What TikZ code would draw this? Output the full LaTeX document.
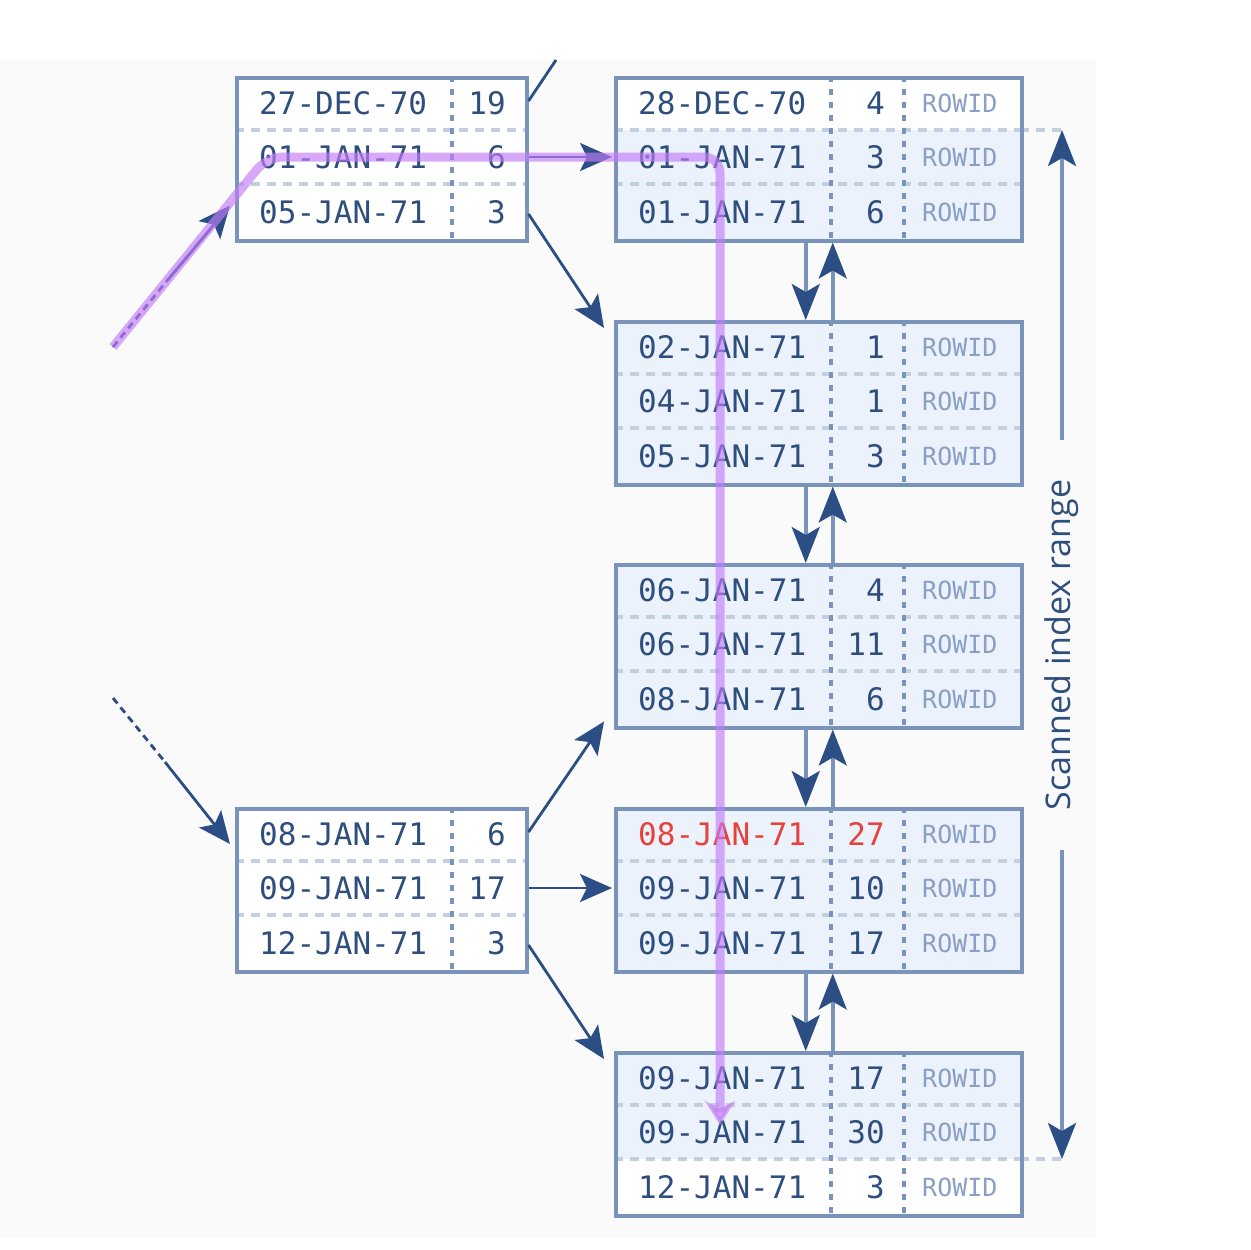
\documentclass[tikz,border=0pt]{standalone}
\usepackage{fontspec}
\usetikzlibrary{arrows.meta}
\newfontfamily\dmono{DejaVu Sans Mono}
\newfontfamily\lblfont{Open Sans}
\definecolor{panelc}{HTML}{FAFAFA}
\definecolor{framec}{HTML}{7A93BA}
\definecolor{sepc}{HTML}{C3CEDF}
\definecolor{txtc}{HTML}{2E4E7E}
\definecolor{ridc}{HTML}{8A9FC5}
\definecolor{arrc}{HTML}{2B4F85}
\definecolor{rowfill}{HTML}{EBF2FB}
\definecolor{purp}{HTML}{C47CF8}
\definecolor{hlred}{HTML}{E8403A}
\tikzset{
 frame/.style={draw=framec, line width=3.5pt, inner sep=0pt, anchor=north west, minimum height=163pt},
 rowsep/.style={draw=sepc, line width=3.5pt, dash pattern=on 9pt off 7pt},
 coldiv/.style={draw=framec, line width=4pt, dash pattern=on 6pt off 7pt},
 datetxt/.style={font=\dmono\fontsize{31}{31}\selectfont, text=txtc, inner sep=0pt, anchor=west},
 numtxt/.style={datetxt, anchor=east},
 ridtxt/.style={font=\dmono\fontsize{25}{25}\selectfont, text=ridc, inner sep=0pt, anchor=west},
 arr/.style={draw=arrc, line width=2.8pt, -{Stealth[length=32pt,width=28pt,inset=7pt]}},
 chainarr/.style={draw=framec, line width=3.5pt, -{Stealth[length=36pt,width=28pt,inset=8pt,color=arrc]}},
 link/.style={draw=arrc, line width=2.8pt},
 pathhl/.style={draw=purp, line width=9pt, opacity=0.65, rounded corners=16pt, -{Stealth[length=24pt,width=30pt]}},
}
% right-hand leaf box
\newcommand\RBox[8]{%
 \draw[rowsep] (614,#2+54) -- (1020,#2+54);
 \draw[rowsep] (614,#2+108) -- (1020,#2+108);
 \draw[coldiv] (831,#2) -- (831,#2+163);
 \draw[coldiv] (904,#2) -- (904,#2+163);
 \node[frame, minimum width=406pt] (#1) at (614,#2) {};
 \node[datetxt] (#1d1) at (638,#2+27) {#3};
 \node[numtxt] (#1n1) at (885,#2+27) {#4};
 \node[ridtxt] (#1r1) at (922,#2+27) {ROWID};
 \node[datetxt] (#1d2) at (638,#2+81) {#5};
 \node[numtxt] (#1n2) at (885,#2+81) {#6};
 \node[ridtxt] (#1r2) at (922,#2+81) {ROWID};
 \node[datetxt] (#1d3) at (638,#2+136) {#7};
 \node[numtxt] (#1n3) at (885,#2+136) {#8};
 \node[ridtxt] (#1r3) at (922,#2+136) {ROWID};
}
% left-hand branch box
\newcommand\LBox[8]{%
 \draw[rowsep] (235,#2+54) -- (525,#2+54);
 \draw[rowsep] (235,#2+108) -- (525,#2+108);
 \draw[coldiv] (452,#2) -- (452,#2+163);
 \node[frame, minimum width=290pt] (#1) at (235,#2) {};
 \node[datetxt] (#1d1) at (259,#2+27) {#3};
 \node[numtxt] (#1n1) at (506,#2+27) {#4};
 \node[datetxt] (#1d2) at (259,#2+81) {#5};
 \node[numtxt] (#1n2) at (506,#2+81) {#6};
 \node[datetxt] (#1d3) at (259,#2+136) {#7};
 \node[numtxt] (#1n3) at (506,#2+136) {#8};
}
\begin{document}
\begin{tikzpicture}[x=1pt,y=-1pt]
\fill[white] (0,0) rectangle (1250,1250);
\useasboundingbox (0,0) rectangle (1250,1250);
\fill[panelc] (0,60) rectangle (1096,1237);
% fills
\fill[white] (235,76) rectangle (525,239);
\fill[white] (235,807) rectangle (525,970);
\fill[white] (614,76) rectangle (1020,130);
\fill[rowfill] (614,130) rectangle (1020,239);
\fill[rowfill] (614,320) rectangle (1020,483);
\fill[rowfill] (614,563) rectangle (1020,726);
\fill[rowfill] (614,807) rectangle (1020,970);
\fill[rowfill] (614,1051) rectangle (1020,1159);
\fill[white] (614,1159) rectangle (1020,1214);
% range extension lines
\draw[rowsep] (1020,130) -- (1064,130);
\draw[rowsep] (1020,1159) -- (1064,1159);
% boxes
\LBox{L1}{76}{27-DEC-70}{19}{01-JAN-71}{6}{05-JAN-71}{3}
\LBox{L2}{807}{08-JAN-71}{6}{09-JAN-71}{17}{12-JAN-71}{3}
\RBox{R1}{76}{28-DEC-70}{4}{01-JAN-71}{3}{01-JAN-71}{6}
\RBox{R2}{320}{02-JAN-71}{1}{04-JAN-71}{1}{05-JAN-71}{3}
\RBox{R3}{563}{06-JAN-71}{4}{06-JAN-71}{11}{08-JAN-71}{6}
\RBox{R4}{807}{\textcolor{hlred}{08-JAN-71}}{\textcolor{hlred}{27}}{09-JAN-71}{10}{09-JAN-71}{17}
\RBox{R5}{1051}{09-JAN-71}{17}{09-JAN-71}{30}{12-JAN-71}{3}
% branch connectors
\coordinate (topend) at (556,60);
\draw[link] ([yshift=2pt]L1.east |- L1d1) -- (topend);
\draw[arr] (L1.east |- L1d2) -- ([xshift=-2pt]R1.west |- L1d2);
\draw[arr] ([yshift=-2pt]L1.east |- L1d3) -- ([shift={(-10pt,-8pt)}]R2.north west);
\draw[arr] ([yshift=2pt]L2.east |- L2d1) -- ([shift={(-10pt,8pt)}]R3.south west);
\draw[arr] (L2.east |- L2d2) -- ([xshift=-2pt]R4.west |- L2d2);
\draw[arr] ([yshift=-2pt]L2.east |- L2d3) -- ([shift={(-10pt,-8pt)}]R5.north west);
% incoming connectors
\coordinate (inA) at (113,347);
\coordinate (inAm) at (166,282);
\coordinate (inB) at (113,698);
\coordinate (inBm) at (165,762);
\draw[link, dash pattern=on 7pt off 5pt] (inA) -- (inAm);
\draw[arr] (inAm) -- ([xshift=-5pt,yshift=37pt]L1.south west);
\draw[link, dash pattern=on 7pt off 5pt] (inB) -- (inBm);
\draw[arr] (inBm) -- ([xshift=-5pt,yshift=-37pt]L2.north west);
% leaf chain
\foreach \a/\b in {R1/R2,R2/R3,R3/R4,R4/R5}{
 \draw[chainarr] ([xshift=-13pt]\a.south) -- ([xshift=-13pt]\b.north);
 \draw[chainarr] ([xshift=14pt]\b.north) -- ([xshift=14pt]\a.south);
}
% scanned range
\node[font=\lblfont\fontsize{34}{34}\selectfont, text=txtc, rotate=90, inner sep=0pt] (lbl) at (1062,645) {Scanned index range};
\coordinate (rtop) at (1062,130);
\coordinate (rbot) at (1062,1159);
\coordinate (rtops) at (1062,440);
\coordinate (rbots) at (1062,850);
\draw[chainarr] (rtops) -- (rtop);
\draw[chainarr] (rbots) -- (rbot);
% highlighted access path
\coordinate (pc1) at (267,157);
\coordinate (pc2) at (720,157);
\coordinate (pend) at (720,1125);
\draw[pathhl] (inA) -- (pc1) -- (pc2) -- (pend);
\end{tikzpicture}
\end{document}
